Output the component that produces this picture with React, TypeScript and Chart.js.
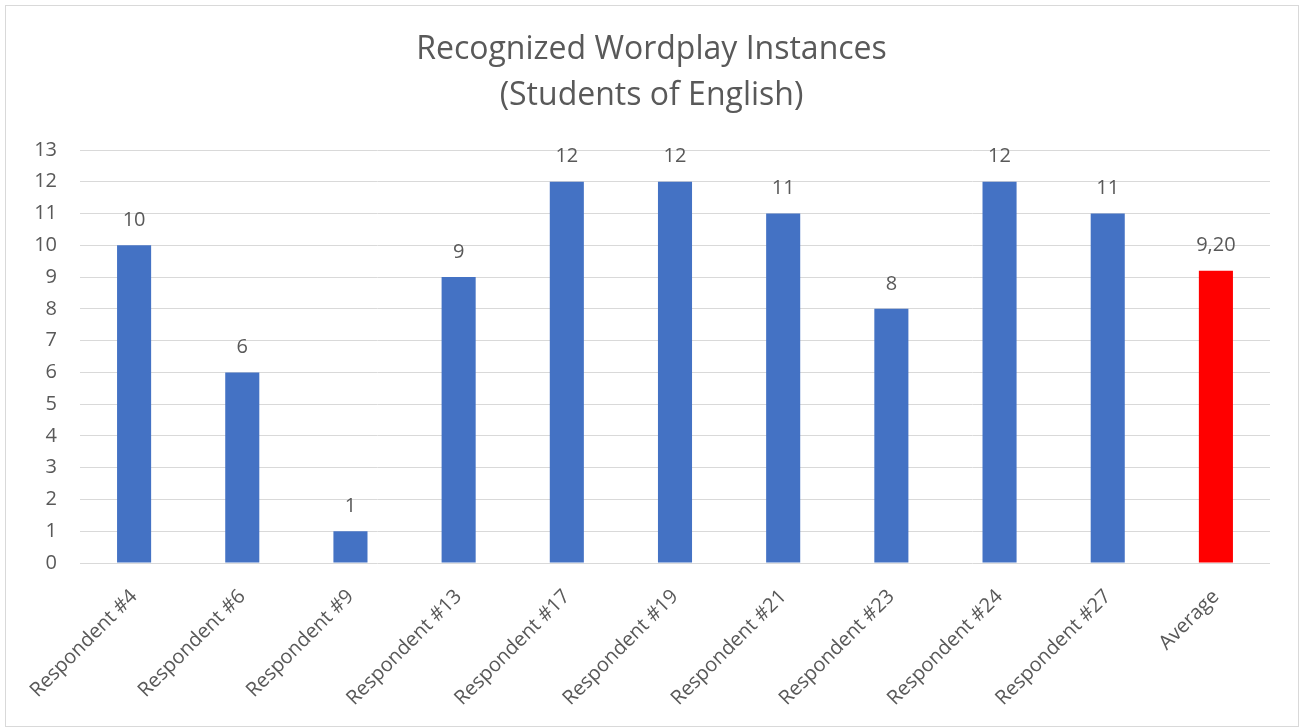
import React, { useEffect, useRef } from "react";
import { Chart, registerables } from "chart.js";

Chart.register(...registerables);

const titleLines = ["Recognized Wordplay Instances", "(Students of English)"];
const categories = [
  "Respondent #4",
  "Respondent #6",
  "Respondent #9",
  "Respondent #13",
  "Respondent #17",
  "Respondent #19",
  "Respondent #21",
  "Respondent #23",
  "Respondent #24",
  "Respondent #27",
  "Average",
];
const values = [10, 6, 1, 9, 12, 12, 11, 8, 12, 11, 9.2];
const yTicks = { min: 0, max: 13, step: 1 };

const BLUE = "#4472C4";
const RED = "#FF0000";
const TEXT = "#595959";
const GRID = "#d9d9d9";
const FONT = "'Open Sans', sans-serif";

const formatLabel = (v: number, i: number) =>
  categories[i] === "Average" ? v.toFixed(2).replace(".", ",") : String(v);

const titlePlugin = {
  id: "customTitle",
  afterDraw(chart: any) {
    const ctx = chart.ctx;
    ctx.save();
    ctx.fillStyle = TEXT;
    ctx.font = `32px ${FONT}`;
    ctx.textAlign = "center";
    ctx.textBaseline = "middle";
    const cx = chart.width / 2 + 1;
    titleLines.forEach((line, i) => {
      ctx.fillText(line, cx, 50 + i * 46);
    });
    ctx.restore();
  },
};

const dataLabelPlugin = {
  id: "dataLabels",
  afterDatasetsDraw(chart: any) {
    const ctx = chart.ctx;
    const meta = chart.getDatasetMeta(0);
    ctx.save();
    ctx.fillStyle = TEXT;
    ctx.font = `20px ${FONT}`;
    ctx.textAlign = "center";
    ctx.textBaseline = "middle";
    meta.data.forEach((bar: any, i: number) => {
      ctx.fillText(formatLabel(values[i], i), bar.x, bar.y - 25);
    });
    ctx.restore();
  },
};

export default function App() {
  const ref = useRef<HTMLCanvasElement | null>(null);

  useEffect(() => {
    if (!ref.current) return;
    const chart = new Chart(ref.current, {
      type: "bar",
      data: {
        labels: categories,
        datasets: [
          {
            data: values,
            backgroundColor: categories.map((c) => (c === "Average" ? RED : BLUE)),
            borderWidth: 0,
            barPercentage: 0.315,
            categoryPercentage: 1,
          },
        ],
      },
      options: {
        animation: false,
        responsive: true,
        maintainAspectRatio: false,
        layout: { padding: { top: 150, left: 0, right: 31, bottom: 0 } },
        plugins: {
          legend: { display: false },
          title: { display: false },
          tooltip: { enabled: false },
        },
        scales: {
          x: {
            grid: { display: false, drawTicks: false },
            border: { display: false },
            ticks: {
              color: TEXT,
              font: { family: FONT, size: 20 },
              minRotation: 45,
              maxRotation: 45,
              autoSkip: false,
              padding: 22,
            },
            afterFit(scale: any) {
              scale.height = 164;
            },
          },
          y: {
            min: yTicks.min,
            max: yTicks.max,
            grid: { color: GRID, lineWidth: 1, drawTicks: false },
            border: { display: false },
            ticks: {
              stepSize: yTicks.step,
              color: TEXT,
              font: { family: FONT, size: 20 },
              padding: 23,
            },
            afterFit(scale: any) {
              scale.width = 80;
            },
          },
        },
      },
      plugins: [titlePlugin, dataLabelPlugin],
    });
    return () => chart.destroy();
  }, []);

  return (
    <div style={{ position: "absolute", left: 0, top: 0, width: 1301, height: 727, background: "#fff" }}>
      <div
        style={{
          position: "absolute",
          left: 5,
          top: 5,
          width: 1294,
          height: 722,
          boxSizing: "border-box",
          border: `1px solid ${GRID}`,
          pointerEvents: "none",
        }}
      />
      <canvas ref={ref} style={{ position: "absolute", left: 0, top: 0 }} />
    </div>
  );
}
